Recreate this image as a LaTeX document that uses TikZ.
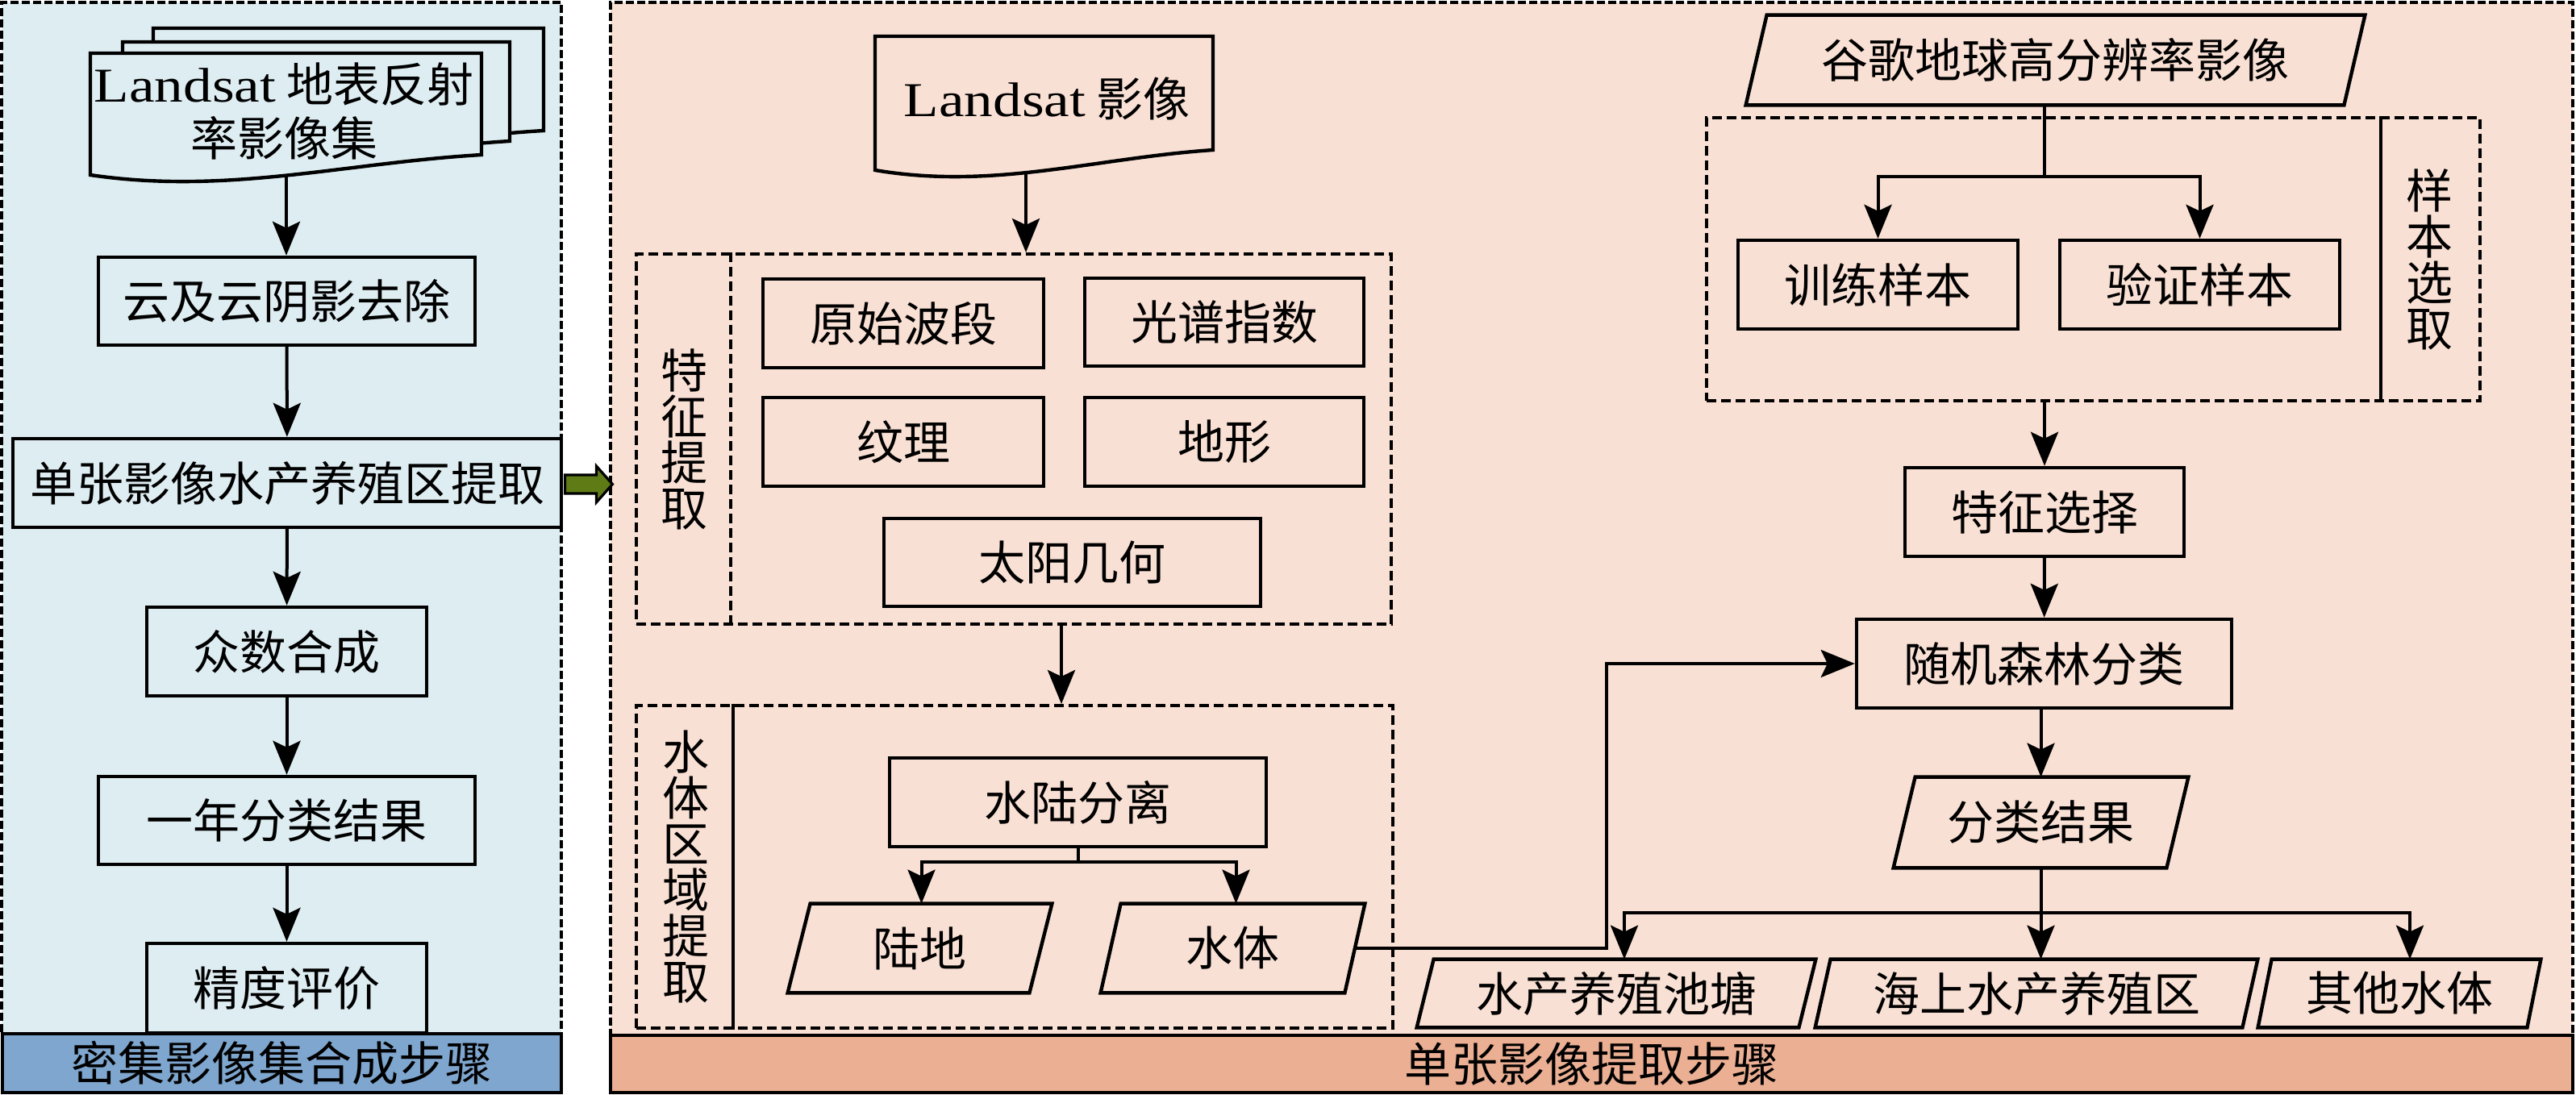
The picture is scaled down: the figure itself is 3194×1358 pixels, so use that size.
\documentclass[tikz,border=0pt]{standalone}
\usepackage{fontspec}
\setmainfont{Noto Sans CJK SC}
\newfontfamily\lat[FakeStretch=1.18,Scale=1.04]{Liberation Serif}
\usetikzlibrary{arrows.meta}
\definecolor{lblue}{HTML}{DEEDF2}
\definecolor{peach}{HTML}{F9E0D4}
\definecolor{bandblue}{HTML}{7FA6CE}
\definecolor{bandpeach}{HTML}{EBAF93}
\definecolor{olivegreen}{HTML}{5E7B16}
\newdimen\mylsl
\mylsl=-50pt
\newcommand\myfont{\fontsize{29pt}{28.5pt}\selectfont\lineskiplimit\mylsl\relax}
\tikzset{
  every node/.style={font=\myfont},
  boxline/.style={line width=2.2pt, line join=miter},
  box/.style={draw, boxline, inner sep=0pt, align=center},
  txt/.style={inner sep=0pt, align=center},
  conn/.style={line width=2pt},
  arr/.style={conn, -{Stealth[length=21pt,width=17pt,inset=4pt]}},
  dbox/.style={draw, line width=2pt, dash pattern=on 6pt off 3pt, inner sep=0pt},
  panel/.style={draw, line width=2pt, dash pattern=on 5pt off 2pt, inner sep=0pt},
  band/.style={draw, line width=2pt, inner sep=0pt},
}
\newcommand\paradraw[2]{\draw[boxline] ([xshift=#2]#1.north west) -- (#1.north east) -- ([xshift=-#2]#1.south east) -- (#1.south west) -- cycle;}
\newcommand\docshape[5]{\filldraw[boxline, fill=#5] (#1,#3) -- (#2,#3) -- (#2,{#4-25}) .. controls ({#1+0.65*(#2-#1)},{#4-15}) and ({#1+0.35*(#2-#1)},{#4+25}) .. (#1,#4) -- cycle;}
\begin{document}
\begin{tikzpicture}[x=0.5pt,y=-0.5pt]
\useasboundingbox (0,0) rectangle (3194,1358);
% panels
\node[panel, fill=lblue, minimum width=347pt, minimum height=639.5pt] (lpanel) at (349,642.5) {};
\node[panel, fill=peach, minimum width=1216.5pt, minimum height=640.5pt] (rpanel) at (1973.5,643.5) {};
\node[band, fill=bandblue, minimum width=346.5pt, minimum height=36.5pt] (lband) at (349.5,1318.5) {密集影像集合成步骤};
\node[band, fill=bandpeach, minimum width=1216.5pt, minimum height=35.5pt] (rband) at (1973.5,1319.5) {单张影像提取步骤};

% ---------- left column ----------
\docshape{190}{674}{35}{187}{lblue}
\docshape{152}{632}{52}{200}{lblue}
\docshape{112}{597}{66}{217}{lblue}
\node[txt] (fdoc) at (352,138) {{\lat Landsat} 地表反射\\[5pt]率影像集};
\coordinate (fdocb) at (355,217);
\node[box, minimum width=233.5pt, minimum height=54.5pt] (cloud) at (355.5,373.5) {云及云阴影去除};
\node[box, minimum width=340.25pt, minimum height=55pt] (single) at (356,599) {单张影像水产养殖区提取};
\node[box, minimum width=173.5pt, minimum height=55pt] (mode) at (355.5,808) {众数合成};
\node[box, minimum width=233.5pt, minimum height=54.5pt] (year) at (355.5,1017.5) {一年分类结果};
\node[box, minimum width=173.5pt, minimum height=55.5pt] (acc) at (355.5,1225.5) {精度评价};
\draw[arr] (fdocb) -- (fdocb |- cloud.north);
\draw[arr] (cloud) -- (single);
\draw[arr] (single) -- (mode);
\draw[arr] (mode) -- (year);
\draw[arr] (year) -- (acc);
% green block arrow
\filldraw[fill=olivegreen, draw=black, line width=1.6pt, line join=miter] (single.east) ++(2,-10) -- ++(39,0) -- ++(0,-11) -- ++(20,22.5) -- ++(-20,22.5) -- ++(0,-11) -- ++(-39,0) -- cycle;

% ---------- middle column ----------
\docshape{1085}{1504}{45}{211}{peach}
\node[txt] (ldoc) at (1298,122) {{\lat Landsat} 影像};
\coordinate (ldocb) at (1272,214);
\node[dbox, minimum width=468pt, minimum height=229.5pt] (featbox) at (1257,544.5) {};
\draw[line width=2pt, dash pattern=on 6pt off 3pt] ([xshift=59.5pt]featbox.north west) -- ([xshift=59.5pt]featbox.south west);
\node[txt] (featlabel) at (848.5,544.5) {特\\征\\提\\取};
\node[box, minimum width=174pt, minimum height=55pt] (orig) at (1120,401) {原始波段};
\node[box, minimum width=173pt, minimum height=54.5pt] (spec) at (1518,399.5) {光谱指数};
\node[box, minimum width=174pt, minimum height=55pt] (tex) at (1120,548) {纹理};
\node[box, minimum width=173pt, minimum height=55pt] (topo) at (1518,548) {地形};
\node[box, minimum width=233.5pt, minimum height=54.5pt] (sun) at (1329.5,697.5) {太阳几何};
\draw[arr] (ldocb) -- (ldocb |- featbox.north);

\node[dbox, minimum width=469pt, minimum height=200pt] (waterbox) at (1258,1075) {};
\draw[line width=2pt] ([xshift=61pt]waterbox.north west) -- ([xshift=61pt]waterbox.south west);
\node[txt] (waterlabel) at (850,1075) {水\\体\\区\\域\\提\\取};
\draw[arr] ([xshift=29.5pt]featbox.south) -- ([xshift=29.5pt]featbox.south |- waterbox.north);
\node[box, minimum width=233.5pt, minimum height=55pt] (sepn) at (1336.5,995) {水陆分离};
\node[txt, minimum width=163.5pt, minimum height=55pt] (land) at (1140.5,1176) {陆地};
\paradraw{land}{14pt}
\node[txt, minimum width=163.5pt, minimum height=55pt] (wbody) at (1528.5,1176) {水体};
\paradraw{wbody}{12.5pt}
\draw[conn] (sepn.south) -- ++(0,17) coordinate (ssplit);
\draw[arr] (ssplit) -| ([xshift=1pt]land.north);
\draw[arr] (ssplit) -| ([xshift=2pt]wbody.north);

% ---------- right column ----------
\node[txt, minimum width=383.5pt, minimum height=55.5pt] (goog) at (2548.5,74.5) {谷歌地球高分辨率影像};
\paradraw{goog}{13pt}
\node[dbox, minimum width=479.5pt, minimum height=175.5pt] (sampbox) at (2595.5,321.5) {};
\draw[line width=2pt] ([xshift=-62.5pt]sampbox.north east) -- ([xshift=-62.5pt]sampbox.south east);
\node[txt] (samplabel) at (3012.5,321.5) {样\\本\\选\\取};
\node[box, minimum width=173.5pt, minimum height=55pt] (train) at (2328.5,353) {训练样本};
\node[box, minimum width=173.5pt, minimum height=55pt] (valid) at (2727.5,353) {验证样本};
\node[box, minimum width=173pt, minimum height=55pt] (featsel) at (2535,635) {特征选择};
\node[box, minimum width=232.5pt, minimum height=55pt] (rf) at (2534.5,823) {随机森林分类};
\node[txt, minimum width=182.5pt, minimum height=56pt] (result) at (2530.5,1020) {分类结果};
\paradraw{result}{13.5pt}
\node[txt, minimum width=247pt, minimum height=42pt] (pond) at (2004,1232) {水产养殖池塘};
\paradraw{pond}{10.5pt}
\node[txt, minimum width=274pt, minimum height=42pt] (sea) at (2525,1232) {海上水产养殖区};
\paradraw{sea}{9.5pt}
\node[txt, minimum width=175pt, minimum height=42pt] (other) at (2975,1232) {其他水体};
\paradraw{other}{8.5pt}

\draw[conn] (goog.south -| featsel.north) -- ++(0,89) coordinate (gsplit);
\draw[arr] (gsplit) -| (train.north);
\draw[arr] (gsplit) -| (valid.north);
\draw[arr] (sampbox.south -| featsel.north) -- (featsel.north);
\draw[arr] (featsel) -- (rf);
\draw[arr] (rf.south -| result.south) -- (result.north);
\draw[conn] (result.south) -- ++(0,56) coordinate (rsplit);
\draw[arr] (rsplit) -| ([xshift=5pt]pond.north);
\draw[arr] (rsplit) -- (rsplit |- sea.north);
\draw[arr] (rsplit) -| ([xshift=6.5pt]other.north);
\draw[arr] ([xshift=-6.25pt]wbody.east) -- ++(312.5,0) |- (rf.west);
\end{tikzpicture}
\end{document}
